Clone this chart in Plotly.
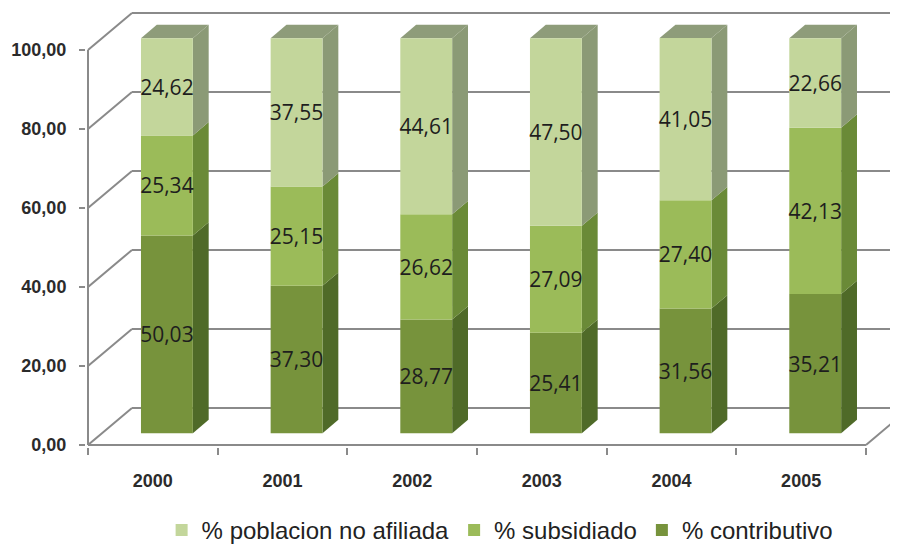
import plotly.graph_objects as go

years = ["2000", "2001", "2002", "2003", "2004", "2005"]
contributivo = [50.03, 37.30, 28.77, 25.41, 31.56, 35.21]
subsidiado = [25.34, 25.15, 26.62, 27.09, 27.40, 42.13]
no_afiliada = [24.62, 37.55, 44.61, 47.50, 41.05, 22.66]
y_ticks = [0, 20, 40, 60, 80, 100]

# stacked bottom -> top: name, values, front colour, side colour
series = [
    ("% contributivo", contributivo, "#77933c", "#4f6a28"),
    ("% subsidiado", subsidiado, "#9bbb59", "#6a8a37"),
    ("% poblacion no afiliada", no_afiliada, "#c3d69b", "#8b9a76"),
]
top_color = "#8e9c7a"
grid_color = "#8a8a8a"

# fake 3d: depth of the whole box in axis units, bar placed inside it
DX, DY = 0.3393, 9.37
F, G = 0.32, 0.36
W = 0.40

n = len(years)
pos = [i + F * DX for i in range(n)]
lift = F * DY

fig = go.Figure()
shapes = []

# back wall / floor grid
x_left = -0.5
x_right = n - 0.5
for v in y_ticks:
    shapes.append(dict(type="line", x0=x_left, y0=v, x1=x_left + DX, y1=v + DY,
                       line=dict(color=grid_color, width=2)))
    shapes.append(dict(type="line", x0=x_left + DX, y0=v + DY, x1=x_right + DX + 1, y1=v + DY,
                       line=dict(color=grid_color, width=2)))
# front axes
shapes.append(dict(type="line", x0=x_left, y0=0, x1=x_left, y1=100,
                   line=dict(color=grid_color, width=2)))
shapes.append(dict(type="line", x0=x_left, y0=0, x1=x_right, y1=0,
                   line=dict(color=grid_color, width=2)))
shapes.append(dict(type="line", x0=x_right, y0=0, x1=x_right + DX, y1=DY,
                   line=dict(color=grid_color, width=2)))

bottom = [0.0] * n
for name, vals, front, side in series:
    fig.add_trace(go.Bar(
        x=pos, y=vals, base=[b + lift for b in bottom], width=W, name=name,
        marker=dict(color=front, line=dict(width=0)),
        texttemplate="%{y:.2f}", textposition="inside", insidetextanchor="middle",
        constraintext="none", textangle=0,
        textfont=dict(family="Open Sans", size=21, color="#1e1e1e"),
    ))
    for i in range(n):
        xr = pos[i] + W / 2
        y0 = bottom[i] + lift
        y1 = y0 + vals[i]
        path = (f"M{xr},{y0} L{xr},{y1} L{xr + G * DX},{y1 + G * DY} "
                f"L{xr + G * DX},{y0 + G * DY} Z")
        shapes.append(dict(type="path", path=path, fillcolor=side,
                           line=dict(width=0), layer="below"))
    bottom = [b + v for b, v in zip(bottom, vals)]

for i in range(n):
    xl = pos[i] - W / 2
    xr = pos[i] + W / 2
    yt = bottom[i] + lift
    path = (f"M{xl},{yt} L{xr},{yt} L{xr + G * DX},{yt + G * DY} "
            f"L{xl + G * DX},{yt + G * DY} Z")
    shapes.append(dict(type="path", path=path, fillcolor=top_color,
                       line=dict(width=0), layer="below"))

for s in shapes:
    s.setdefault("layer", "below")
    s["xref"] = "x"
    s["yref"] = "y"

tick_font = dict(family="Liberation Sans", size=18, weight="bold", color="#2b2b2b")

# page body adds an 8px margin, so the figure is 8px smaller on each side
fig.update_layout(
    width=890, height=537,
    margin=dict(l=78, r=0, t=0, b=98, autoexpand=False),
    paper_bgcolor="white", plot_bgcolor="white",
    barmode="overlay", separators=",.",
    shapes=shapes,
    showlegend=True,
    legend=dict(orientation="h", traceorder="reversed", x=0.51, xanchor="center",
                y=-0.19, yanchor="middle",
                font=dict(family="Liberation Sans", size=24, color="#222222")),
    xaxis=dict(range=[-0.5154, 5.747], tickvals=list(range(n)), ticktext=years,
               ticks="", showgrid=False, zeroline=False, showline=False,
               ticklabelstandoff=21, automargin=False,
               minor=dict(tickvals=[i - 0.5 for i in range(n + 1)], ticks="outside",
                          ticklen=7, tickwidth=2, tickcolor=grid_color, showgrid=False),
               tickfont=tick_font),
    yaxis=dict(range=[-0.506, 110.63], tickvals=y_ticks, tickformat=".2f",
               ticks="outside", ticklen=6, tickwidth=2, tickcolor=grid_color,
               showgrid=False, zeroline=False, showline=False, ticklabelstandoff=9,
               automargin=False, tickfont=tick_font),
)

fig.write_html("out.html")
